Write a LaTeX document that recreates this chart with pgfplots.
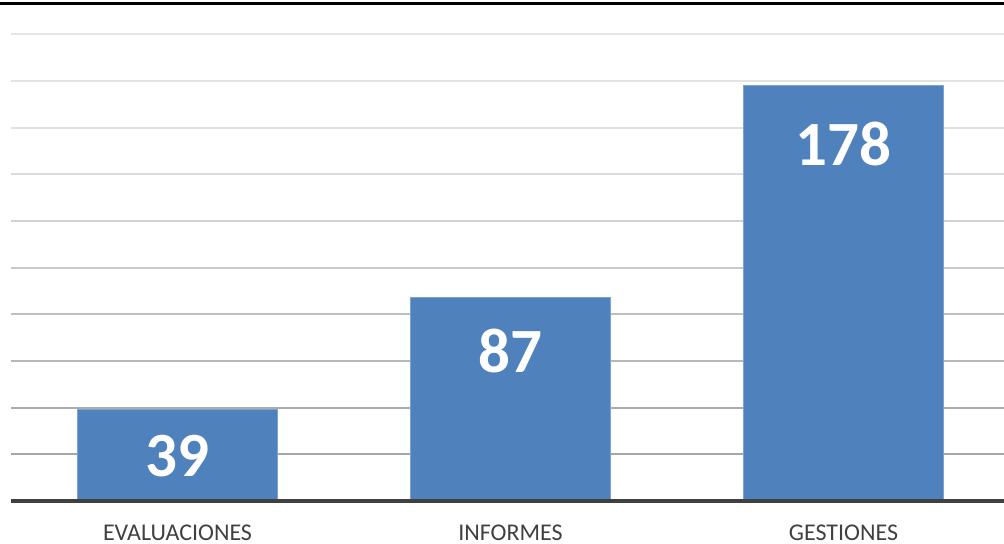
\documentclass[border=0pt]{standalone}
\usepackage{pgfplots}
\pgfplotsset{compat=1.18}
\usepackage{pgfplotstable}
\usepackage{fontspec}
\setmainfont{Carlito}
\definecolor{barblue}{HTML}{4F81BD}
\definecolor{baredge}{HTML}{7FA3D1}
\definecolor{labgray}{HTML}{404040}

\pgfplotstableread{
x y
0 39
1 87
2 178
}\bars

% label heights (centre of the numbers inside the bars)
\pgfplotstableread{
x ly lab
0 19.3 39
1 64.3 87
2 152.8 178
}\barlabels

\begin{document}
\begin{tikzpicture}
\begin{axis}[
  name=a,
  scale only axis,
  width=496.5pt, height=248.5pt,
  xmin=-0.5, xmax=2.482,
  ymin=0, ymax=213,
  axis line style={draw=none},
  xtick={0,1,2},
  xticklabels={EVALUACIONES,INFORMES,GESTIONES},
  xticklabel style={anchor=center, yshift=-16pt, font=\fontsize{12}{14}\selectfont, text=labgray},
  major tick length=0pt,
  ytick=\empty,
  clip=false,
]
  \foreach \v/\c in {20/35,40/33,60/28,80/25,100/21,120/18,140/14,160/12,180/11,200/10}{
    \edef\tmp{\noexpand\draw[black!\c, line width=0.9pt] (axis cs:-0.5,\v) -- (axis cs:2.482,\v);}\tmp
  }
  \addplot[ybar, bar width=100pt, fill=barblue, draw=baredge, line width=0.5pt] table[x=x, y=y] {\bars};
  \addplot[draw=none, nodes near coords, point meta=explicit symbolic,
    every node near coord/.append style={anchor=center, text=white,
      font=\fontsize{31.5}{36}\selectfont\bfseries}]
    table[x=x, y=ly, meta=lab] {\barlabels};
\end{axis}
\draw[labgray, line width=2pt] (a.south west) -- (a.south east);
\draw[black, line width=1.5pt] ([xshift=-5.5pt]a.north west) -- (a.north east);
\pgfresetboundingbox
\path ([xshift=-5.5pt,yshift=-21.5pt]a.south west) rectangle ([yshift=2pt]a.north east);
\end{tikzpicture}
\end{document}
